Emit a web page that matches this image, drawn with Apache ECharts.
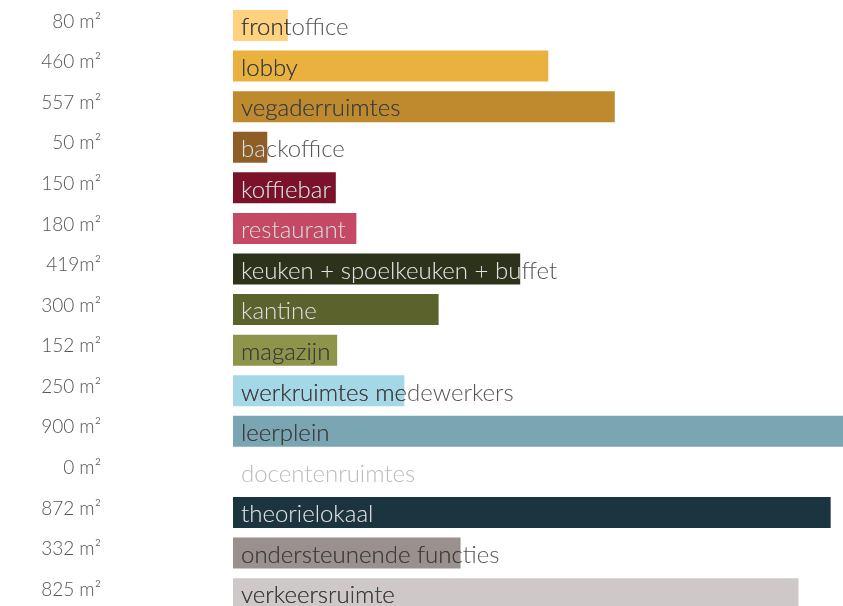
<!DOCTYPE html>
<html><head><meta charset="utf-8">
<script src="https://cdn.jsdelivr.net/npm/echarts@6/dist/echarts.min.js"></script>
<style>html,body{margin:0;padding:0;background:#fff;overflow:hidden}#c{width:843px;height:614px}</style>
</head><body><div id="c"></div>
<script>
const categories = ['frontoffice','lobby','vegaderruimtes','backoffice','koffiebar','restaurant','keuken + spoelkeuken + buffet','kantine','magazijn','werkruimtes medewerkers','leerplein','docentenruimtes','theorielokaal','ondersteunende functies','verkeersruimte'];
const areas = [80,460,557,50,150,180,419,300,152,250,900,0,872,332,825];
const areaLabels = ['80 m²','460 m²','557 m²','50 m²','150 m²','180 m²','419m²','300 m²','152 m²','250 m²','900 m²','0 m²','872 m²','332 m²','825 m²'];
const barColors = ['#FFD27F','#EAB13F','#BF8A2E','#8E5E26','#7C1229','#C54964','#2D321A','#5C622C','#8E9449','#A5D8E6','#7AA6B3','#cccccc','#1B3540','#9A908E','#CEC8C8'];
const insideText = ['#3d3d3d','#3d3d3d','#3d3d3d','#e2e2e2','#e2e2e2','#f1dde2','#e2e2e2','#e2e2e2','#3d3d3d','#3d3d3d','#3d3d3d','#bbbbbb','#e2e2e2','#3d3d3d','#3d3d3d'];
const outsideText = ['#555555','#555555','#555555','#555555','#555555','#555555','#555555','#555555','#555555','#555555','#555555','#bbbbbb','#555555','#555555','#555555'];

const chart = echarts.init(document.getElementById('c'));
const font = '300 24px Lato';
chart.setOption({
  animation:false,
  grid:{left:233,right:0,top:5.2,bottom:0,containLabel:false},
  xAxis:{type:'value',min:0,max:890,show:false},
  yAxis:{type:'category',inverse:true,data:areaLabels,
    axisLine:{show:false},axisTick:{show:false},splitLine:{show:false},
    axisLabel:{margin:132,fontFamily:'Lato',fontWeight:300,fontSize:19,color:'#555',align:'right',verticalAlign:'bottom',lineHeight:8}},
  series:[{
    type:'custom',clip:false,
    data:areas.map((v,i)=>[v,i]),
    encode:{x:0,y:1},
    renderItem:function(params,api){
      const i=params.dataIndex;
      const v=api.value(0);
      const s=api.coord([0,i]);
      const e=api.coord([v,i]);
      const h=api.size([0,1])[1]*0.764;
      const rect={x:s[0],y:s[1]-h/2,width:Math.max(0,Math.min(e[0],843)-s[0]),height:h};
      const txt={text:categories[i],x:s[0]+8,y:s[1]+2,font:font,verticalAlign:'middle',align:'left'};
      return {type:'group',children:[
        {type:'rect',shape:rect,style:{fill:barColors[i]}},
        {type:'text',style:Object.assign({},txt,{fill:outsideText[i]})},
        {type:'group',clipPath:{type:'rect',shape:rect},children:[
          {type:'text',style:Object.assign({},txt,{fill:insideText[i]})}
        ]}
      ]};
    }
  }]
});
</script></body></html>
